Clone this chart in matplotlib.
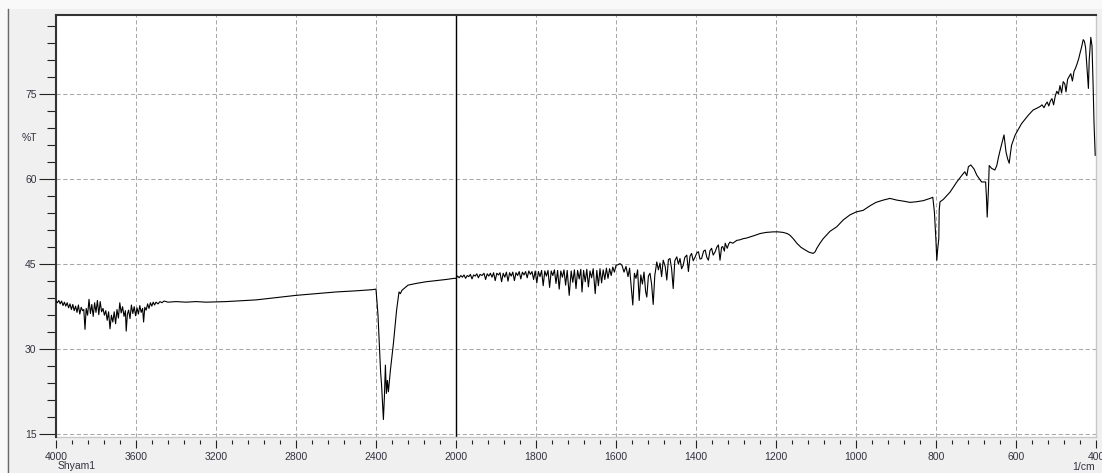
import numpy as np
import matplotlib
matplotlib.use("Agg")
import matplotlib.pyplot as plt
from matplotlib.patches import Rectangle
from matplotlib.lines import Line2D

plt.rcParams['font.family'] = ['Liberation Sans', 'DejaVu Sans']

# IR spectrum of sample Shyam1 (wavenumber in 1/cm, transmittance in %T)
wavenumber = [
    4000, 3993, 3986, 3979, 3972, 3965, 3958, 3951, 3944, 3937, 3930, 3923, 3916, 3909, 3902, 3895,
    3888, 3881, 3874, 3867, 3861, 3855, 3849, 3842, 3835, 3828, 3821, 3814, 3807, 3800, 3793, 3786,
    3779, 3772, 3765, 3758, 3751, 3744, 3737, 3730, 3723, 3716, 3709, 3702, 3695, 3688, 3681, 3674,
    3667, 3660, 3653, 3649, 3643, 3637, 3630, 3623, 3616, 3609, 3602, 3595, 3588, 3581, 3574, 3567,
    3562, 3556, 3549, 3542, 3535, 3528, 3521, 3514, 3507, 3500, 3490, 3480, 3470, 3460, 3440, 3400,
    3350, 3300, 3250, 3200, 3150, 3100, 3050, 3000, 2950, 2900, 2850, 2800, 2700, 2600, 2500, 2420,
    2400, 2390, 2383, 2377, 2372, 2366, 2363, 2358, 2353, 2348, 2343, 2338, 2328, 2313, 2297, 2285,
    2278, 2270, 2240, 2200, 2150, 2100, 2050, 2010,
    2000, 1996, 1992, 1988, 1984, 1980, 1976, 1972, 1968, 1964, 1960, 1956, 1952, 1948, 1944, 1940,
    1935, 1930, 1926, 1922, 1918, 1914, 1910, 1906, 1902, 1898, 1894, 1890, 1886, 1882, 1878, 1874,
    1870, 1866, 1862, 1858, 1854, 1850, 1846, 1842, 1838, 1834, 1830, 1826, 1822, 1818, 1814, 1810,
    1806, 1802, 1798, 1794, 1790, 1786, 1782, 1778, 1774, 1770, 1766, 1762, 1758, 1754, 1750, 1746,
    1742, 1738, 1734, 1730, 1726, 1722, 1717, 1712, 1708, 1704, 1700, 1696, 1692, 1688, 1685, 1681,
    1677, 1673, 1669, 1665, 1661, 1657, 1652, 1648, 1644, 1640, 1636, 1632, 1628, 1624, 1620, 1616,
    1612, 1608, 1604, 1600, 1595, 1590, 1585, 1580, 1575, 1570, 1566, 1562, 1558, 1554, 1550, 1546,
    1542, 1538, 1534, 1530, 1526, 1523, 1519, 1515, 1511, 1507, 1503, 1498, 1494, 1490, 1486, 1482,
    1477, 1473, 1469, 1465, 1461, 1457, 1453, 1448, 1444, 1440, 1436, 1432, 1428, 1423, 1419, 1415,
    1411, 1407, 1402, 1398, 1394, 1390, 1386, 1381, 1377, 1373, 1369, 1365, 1361, 1357, 1352, 1348,
    1344, 1340, 1336, 1333, 1329, 1327, 1322, 1318, 1315, 1308, 1298, 1290, 1282, 1274, 1265, 1252,
    1240, 1225, 1207, 1195, 1182, 1172, 1165, 1157, 1148, 1138, 1127, 1117, 1107, 1102, 1098, 1090,
    1082, 1065, 1048, 1032, 1015, 1000, 982, 965, 950, 932, 915, 898, 880, 865, 850, 832,
    815, 808, 804, 800, 798, 796, 793, 792, 790, 782, 765, 748, 735, 728, 723, 719,
    713, 705, 698, 686, 676, 674, 672, 669, 667, 661, 653, 648, 644, 640, 635, 630,
    625, 621, 617, 614, 611, 606, 602, 594, 586, 578, 569, 557, 548, 540, 535, 530,
    526, 522, 518, 514, 510, 506, 502, 498, 494, 490, 486, 482, 478, 475, 471, 467,
    463, 459, 455, 451, 447, 443, 440, 436, 432, 429, 426, 422, 419, 417, 413, 410,
    407, 405, 402,
]

transmittance = [
    38.5, 38.2, 38.6, 38.0, 38.5, 37.7, 38.3, 37.6, 38.2, 37.3, 38.0, 37.0, 37.9, 36.8, 37.6, 36.5,
    37.8, 36.2, 37.4, 36.8, 37.0, 33.5, 37.2, 36.0, 38.8, 36.3, 37.9, 35.8, 38.2, 36.5, 38.6, 36.1,
    38.4, 36.6, 37.2, 36.0, 36.8, 35.1, 36.6, 33.6, 36.0, 34.8, 36.6, 34.5, 37.0, 35.5, 38.2, 36.4,
    37.5, 35.8, 36.8, 33.2, 36.2, 36.9, 35.4, 37.8, 36.3, 37.5, 35.9, 37.3, 36.2, 37.7, 36.5, 37.2,
    34.8, 37.4, 36.9, 38.0, 37.2, 38.2, 37.6, 38.3, 37.8, 38.3, 38.0, 38.4, 38.2, 38.5, 38.3, 38.4,
    38.3, 38.4, 38.3, 38.35, 38.4, 38.5, 38.6, 38.7, 38.9, 39.1, 39.3, 39.5, 39.8, 40.1, 40.3, 40.5,
    40.6, 36.0, 30.4, 26.0, 23.6, 19.5, 17.6, 21.6, 27.2, 22.2, 24.5, 22.5, 26.3, 31.0, 36.9, 40.1,
    39.8, 40.4, 41.3, 41.6, 41.9, 42.1, 42.3, 42.5,
    42.5, 42.9, 42.6, 43.0, 42.7, 43.1, 42.5, 43.0, 42.8, 43.2, 42.4, 43.1, 42.9, 43.3, 42.6, 43.2,
    43.0, 43.4, 42.3, 43.3, 42.9, 43.4, 42.7, 43.5, 42.1, 43.4, 43.1, 43.5, 41.9, 43.4, 42.7, 43.6,
    42.0, 43.5, 42.9, 43.6, 42.1, 43.5, 43.0, 43.7, 42.4, 43.6, 43.1, 43.7, 42.6, 43.8, 43.2, 43.7,
    42.3, 43.8, 41.7, 43.7, 42.8, 43.9, 41.2, 43.8, 42.9, 43.9, 40.9, 43.8, 43.0, 44.0, 41.6, 43.9,
    40.6, 43.8, 42.7, 44.0, 41.3, 43.9, 39.5, 43.8, 41.8, 44.0, 40.7, 43.9, 42.4, 44.1, 40.1, 43.9,
    41.9, 44.1, 41.0, 43.8, 42.6, 44.2, 39.8, 43.9, 41.2, 44.2, 41.7, 44.0, 42.3, 44.3, 42.5, 44.2,
    43.0, 44.5, 43.6, 44.8, 44.9, 45.1, 44.8, 43.6, 44.6, 42.8, 44.3, 41.0, 37.8, 43.4, 42.5, 44.0,
    38.6, 43.1, 41.5, 43.6, 40.2, 39.2, 42.9, 43.4, 41.5, 37.9, 43.0, 45.4, 44.0, 45.2, 42.8, 45.7,
    44.6, 42.2, 45.8, 46.0, 44.2, 40.7, 45.6, 46.3, 45.0, 46.0, 44.2, 44.8, 46.2, 46.6, 43.7, 46.4,
    46.9, 45.6, 46.3, 47.0, 47.2, 45.9, 46.0, 47.3, 47.5, 46.2, 45.7, 47.4, 47.8, 46.6, 47.2, 48.0,
    48.4, 45.7, 48.0, 48.1, 47.3, 48.7, 47.8, 48.6, 48.9, 48.7, 49.2, 49.3, 49.5, 49.6, 49.8, 50.1,
    50.4, 50.6, 50.7, 50.7, 50.6, 50.4, 50.1, 49.5, 48.7, 48.0, 47.5, 47.1, 46.9, 47.2, 47.8, 48.7,
    49.5, 50.8, 51.6, 52.8, 53.7, 54.2, 54.5, 55.3, 55.9, 56.3, 56.6, 56.3, 56.1, 55.9, 56.0, 56.2,
    56.6, 56.8, 54.2, 49.0, 45.7, 47.5, 49.5, 54.5, 56.0, 56.4, 57.7, 59.5, 60.7, 61.3, 60.6, 62.2,
    62.5, 61.8, 60.7, 59.5, 59.5, 57.0, 53.3, 58.0, 62.4, 61.9, 61.6, 62.4, 63.8, 65.0, 66.4, 67.8,
    64.8, 63.6, 62.8, 64.5, 66.0, 67.0, 67.8, 68.8, 69.8, 70.5, 71.3, 72.2, 72.5, 72.8, 73.1, 72.6,
    73.2, 73.6, 72.9, 73.8, 74.2, 73.1, 74.6, 75.5, 75.0, 76.5, 75.2, 77.2, 76.8, 75.4, 77.6, 78.1,
    78.6, 77.3, 79.0, 79.6, 80.4, 81.3, 82.2, 83.3, 84.6, 84.3, 83.2, 79.2, 76.0, 81.0, 85.0, 83.5,
    76.0, 70.0, 64.2,
]

x_major = [4000, 3600, 3200, 2800, 2400, 2000, 1800, 1600, 1400, 1200, 1000, 800, 600, 400]
y_major = [15, 30, 45, 60, 75]
scale_break = 2000


# Two-scale wavenumber axis: below 2000 1/cm the axis is stretched by 2x
def fwd(x):
    x = np.asarray(x, dtype=float)
    return np.where(x >= scale_break, x, 2 * x - scale_break)


def inv(u):
    u = np.asarray(u, dtype=float)
    return np.where(u >= scale_break, u, (u + scale_break) / 2)


W, H = 1102, 473
fig = plt.figure(figsize=(W / 100, H / 100), dpi=100)
fig.patch.set_facecolor('#f0f0f0')

# window frame
fig.add_artist(Rectangle((0, 0), 7 / W, 1, transform=fig.transFigure,
                         facecolor='#f9f9f9', edgecolor='none', zorder=0))
fig.add_artist(Rectangle((0, 1 - 9 / H), 1, 9 / H, transform=fig.transFigure,
                         facecolor='#f9f9f9', edgecolor='none', zorder=0))
fig.add_artist(Line2D([7.5 / W, 7.5 / W], [0, 1 - 9 / H], transform=fig.transFigure,
                      color='#6a6a6a', lw=1.0, zorder=1))

left, right, top, bottom = 56, 1096, 14.7, 437
ax = fig.add_axes([left / W, 1 - bottom / H, (right - left) / W, (bottom - top) / H])
ax.set_facecolor('white')
ax.set_xscale('function', functions=(fwd, inv))
ax.set_xlim(4000, 400)
ax.set_ylim(14.52, 89.0)

ax.plot(wavenumber, transmittance, color='black', lw=0.8, zorder=3)
ax.axvline(scale_break, color='black', lw=1.0, zorder=2)

# ticks
minor_x = [v for v in range(4000, 2000, -80) if v not in x_major] + \
          [v for v in range(2000, 399, -40) if v not in x_major]
minor_y = [v for v in range(15, 89, 3) if v not in y_major]
ax.set_xticks(x_major)
ax.set_xticklabels([str(v) for v in x_major])
ax.set_xticks(minor_x, minor=True)
ax.set_yticks(y_major)
ax.set_yticklabels([str(v) for v in y_major])
ax.set_yticks(minor_y, minor=True)

ax.tick_params(axis='y', which='major', length=12, width=0.8, pad=2,
               labelsize=7.5, color='#222222', labelcolor='#333340')
ax.tick_params(axis='y', which='minor', length=6.5, width=0.8, color='#222222')
ax.tick_params(axis='x', which='major', length=5.5, width=0.8, pad=3,
               labelsize=7.5, color='#222222', labelcolor='#333340')
ax.tick_params(axis='x', which='minor', length=3, width=0.8, color='#222222')

ax.grid(True, which='major', color='#a8a8a8', lw=0.75, linestyle=(0, (4, 2.5)), zorder=1)

for s in ('left', 'top'):
    ax.spines[s].set_color('#333333')
    ax.spines[s].set_linewidth(1.5)
ax.spines['right'].set_color('#c8c8c8')
ax.spines['right'].set_linewidth(1.0)
ax.spines['bottom'].set_position(('outward', 2.5))
ax.spines['bottom'].set_visible(False)
ax.plot([0, 1], [0, 0], transform=ax.transAxes, color='#c8c8c8', lw=1.0, clip_on=False)

fig.text(29 / W, 1 - 138 / H, '%T', ha='center', va='center', fontsize=7.5, color='#333340')
fig.text(58 / W, 1 - 466 / H, 'Shyam1', ha='left', va='center', fontsize=7.5, color='#333340')
fig.text(1095 / W, 1 - 467 / H, '1/cm', ha='right', va='center', fontsize=7.5, color='#333340')

fig.savefig('out.png', dpi=100, facecolor=fig.get_facecolor())
